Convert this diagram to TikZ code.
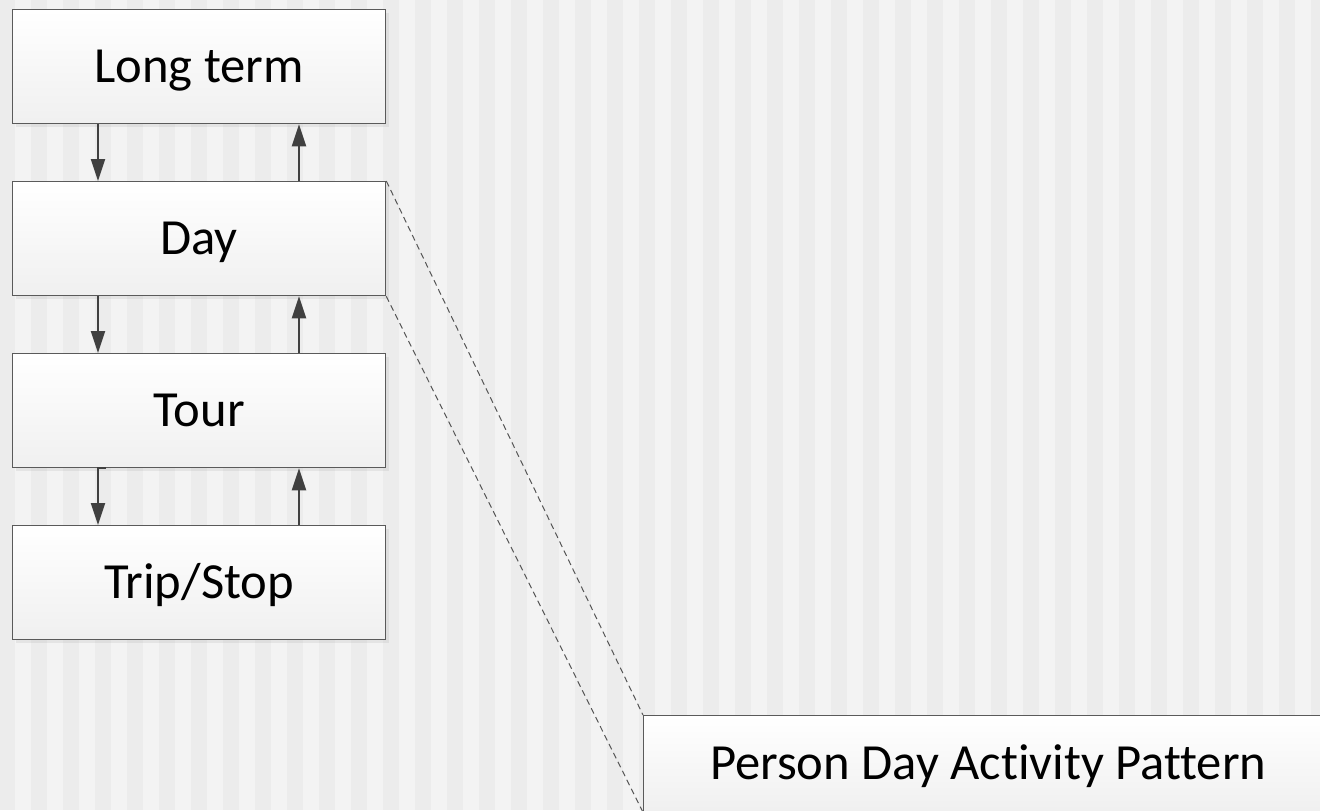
\documentclass[tikz,border=0pt]{standalone}
\usepackage{fontspec}
\setmainfont{Carlito}[Ligatures={NoCommon,NoRare}]
\usetikzlibrary{arrows.meta,shadows}
\definecolor{stripeDark}{HTML}{ECECEC}
\definecolor{stripeLight}{HTML}{F3F3F3}
\definecolor{boxedge}{HTML}{5A5A5A}
\definecolor{flowgray}{HTML}{404040}
\definecolor{linkgray}{HTML}{555555}
\begin{document}
\begin{tikzpicture}[x=0.5pt,y=-0.5pt,
  level/.style={draw=boxedge, line width=0.65pt, top color=white, bottom color=black!6,
    minimum width=186.5pt, minimum height=57pt, inner sep=0pt, anchor=north west,
    text height=20pt, text depth=4pt,
    font=\fontsize{25.3}{30}\selectfont,
    drop shadow={shadow xshift=1.5pt, shadow yshift=-1.5pt, opacity=0.06, fill=black}},
  flow/.style={draw=flowgray, line width=1pt, -{Triangle[length=11pt,width=7pt]}},
  link/.style={draw=linkgray, line width=0.5pt, dash pattern=on 3pt off 2pt}]
\useasboundingbox (0,0) rectangle (1320,810);
\clip (0,0) rectangle (1320,810);
% striped backdrop
\fill[stripeDark] (0,0) rectangle (1320,810);
\foreach \i in {0,...,41} \fill[stripeLight] (15+32*\i,0) rectangle (31+32*\i,810);
% levels of the model
\node[level] (long) at (12,9) {Long term};
\node[level] (day) at (12,181) {Day};
\node[level] (tour) at (12,353) {Tour};
\node[level] (trip) at (12,525) {Trip/Stop};
\node[level, minimum width=344.5pt, minimum height=48pt] (pdap) at (643,715) {Person Day Activity Pattern};
% columns of the down and up connectors
\coordinate (xd) at (98,0);
\coordinate (xt) at (106,0);
\coordinate (xu) at (299,0);
\draw[flow] (long.south -| xd) -- (day.north -| xd);
\draw[flow] (day.north -| xu) -- (long.south -| xu);
\draw[flow] (day.south -| xd) -- (tour.north -| xd);
\draw[flow] (tour.north -| xu) -- (day.south -| xu);
\draw[flow] (tour.south -| xt) -| (trip.north -| xd);
\draw[flow] (trip.north -| xu) -- (tour.south -| xu);
% zoom-out guides from Day to its detail
\draw[link] (day.north east) -- (pdap.north west);
\draw[link] (day.south east) -- (pdap.south west);
\end{tikzpicture}
\end{document}
